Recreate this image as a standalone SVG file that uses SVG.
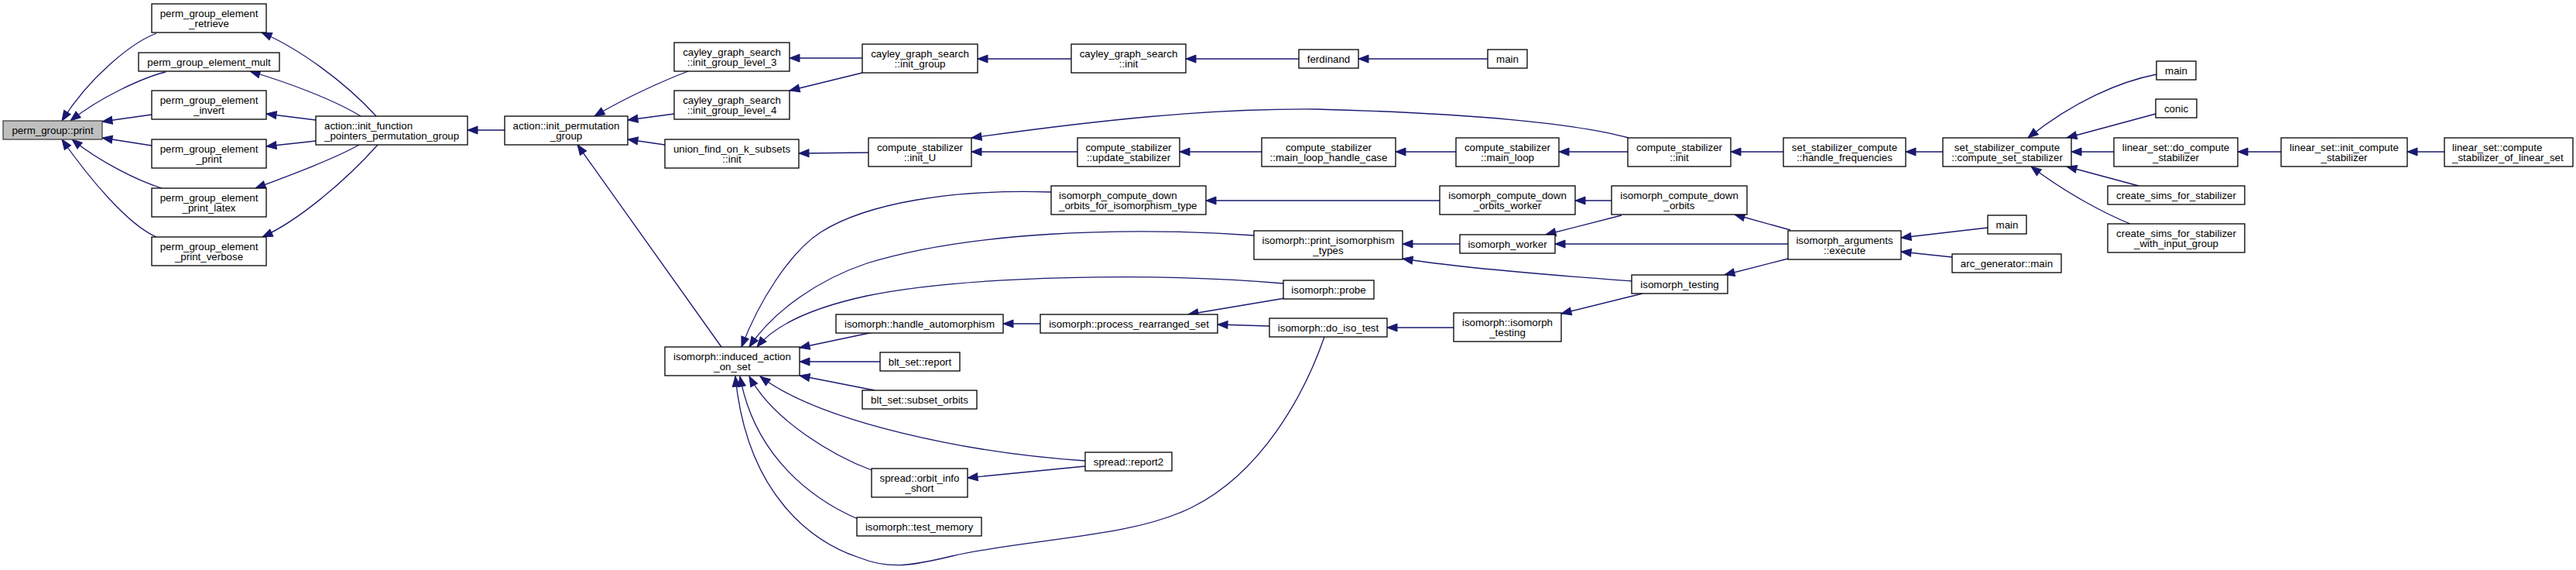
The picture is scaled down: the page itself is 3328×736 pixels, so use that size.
<svg xmlns="http://www.w3.org/2000/svg" width="3328" height="736" viewBox="0 0 3328 736">
<defs>
<style>
.node rect{fill:#fff;stroke:#000;stroke-width:1.3}
.root rect{fill:#bfbfbf;stroke:#404040;stroke-width:1.3}
text{font-family:"Liberation Sans",Arial,sans-serif;font-size:13.33px;fill:#000}
.c{text-anchor:middle}
.l{text-anchor:start}
#edges path{fill:none;stroke:#191970;stroke-width:1.3;marker-end:url(#ah)}
</style>
<marker id="ah" markerUnits="userSpaceOnUse" markerWidth="15" markerHeight="12" refX="13" refY="5" orient="auto" overflow="visible">
<path d="M0,0 L13,5 L0,10 z" fill="#191970" stroke="#191970" stroke-width="1"/>
</marker>
</defs>
<rect width="3328" height="736" fill="#fff"/>
<g id="edges">
<path d="M202,43 C170,55 115,100 80,156"/>
<path d="M214,93 C185,100 130,125 91,156"/>
<path d="M196,148 L132,157"/>
<path d="M196,188 L132,178"/>
<path d="M209,243 C180,234 130,210 93,180"/>
<path d="M202,306 C165,290 115,230 80,180"/>
<path d="M486,150 C445,105 385,62 338,42"/>
<path d="M466,150 C430,128 370,106 323,92"/>
<path d="M408,155 L344,147"/>
<path d="M408,182 L344,189"/>
<path d="M464,187 C430,206 370,228 330,243"/>
<path d="M488,187 C445,235 385,285 339,306"/>
<path d="M652,168 L604,168"/>
<path d="M889,92 C860,103 810,125 768,150"/>
<path d="M871,147 L811,155"/>
<path d="M859,187 L811,180"/>
<path d="M932,448 L746,187"/>
<path d="M1114,75 L1020,75"/>
<path d="M1114,94 L1020,117"/>
<path d="M1384,76 L1263,76"/>
<path d="M1678,76 L1532,76"/>
<path d="M1922,76 L1755,76"/>
<path d="M1122,197 L1032,198"/>
<path d="M1392,196 L1255,196"/>
<path d="M2104,178 C2040,160 1900,146 1700,141 C1560,140 1420,155 1255,178"/>
<path d="M1630,196 L1524,196"/>
<path d="M1881,196 L1803,196"/>
<path d="M2103,196 L2014,196"/>
<path d="M2304,196 L2236,196"/>
<path d="M2510,196 L2462,196"/>
<path d="M2786,96 C2740,105 2680,130 2620,178"/>
<path d="M2785,147 L2670,178"/>
<path d="M2731,196 L2676,196"/>
<path d="M2763,240 L2670,215"/>
<path d="M2752,289 C2720,276 2670,250 2624,215"/>
<path d="M2947,196 L2891,196"/>
<path d="M3158,196 L3110,196"/>
<path d="M1358,248 C1230,244 1120,262 1060,300 C1020,326 980,390 958,448"/>
<path d="M1620,304 C1450,292 1250,300 1120,340 C1060,360 1000,400 968,448"/>
<path d="M1658,366 C1500,352 1250,355 1120,382 C1060,395 1005,415 978,448"/>
<path d="M1128,429 L1033,449"/>
<path d="M1137,467 L1033,467"/>
<path d="M1130,504 L1033,485"/>
<path d="M1402,595 C1250,585 1060,545 982,486"/>
<path d="M1126,607 C1080,590 1000,545 968,486"/>
<path d="M1108,670 C1050,645 975,590 956,486"/>
<path d="M1711,435 C1685,510 1630,610 1540,655 C1460,695 1330,695 1230,718 C1180,730 1150,736 1110,720 C1050,700 965,640 950,486"/>
<path d="M1860,259 L1558,259"/>
<path d="M2082,259 L2035,259"/>
<path d="M1886,315 L1812,315"/>
<path d="M2108,363 C2040,358 1900,348 1812,334"/>
<path d="M2095,278 L1997,303"/>
<path d="M2310,315 L2009,315"/>
<path d="M2313,297 L2241,277"/>
<path d="M2310,334 L2228,355"/>
<path d="M2568,294 L2456,307"/>
<path d="M2522,332 L2456,325"/>
<path d="M1344,418 L1296,418"/>
<path d="M1660,385 L1535,406"/>
<path d="M1640,421 L1573,419"/>
<path d="M1878,423 L1792,423"/>
<path d="M2122,379 L2017,405"/>
<path d="M1402,602 L1250,617"/>
</g>
<g id="n1" class="root"><rect x="4" y="156" width="128" height="24"/><text class="c" x="68" y="172.7">perm_group::print</text></g>
<g id="n2" class="node"><rect x="196" y="5" width="148" height="37"/><text class="c" x="270" y="22">perm_group_element</text><text class="c" x="270" y="35">_retrieve</text></g>
<g id="n3" class="node"><rect x="179" y="68" width="182" height="24"/><text class="c" x="270" y="84.7">perm_group_element_mult</text></g>
<g id="n4" class="node"><rect x="196" y="117" width="148" height="37"/><text class="c" x="270" y="134">perm_group_element</text><text class="c" x="270" y="147">_invert</text></g>
<g id="n5" class="node"><rect x="196" y="180" width="148" height="37"/><text class="c" x="270" y="197">perm_group_element</text><text class="c" x="270" y="210">_print</text></g>
<g id="n6" class="node"><rect x="196" y="243" width="148" height="37"/><text class="c" x="270" y="260">perm_group_element</text><text class="c" x="270" y="273">_print_latex</text></g>
<g id="n7" class="node"><rect x="196" y="306" width="148" height="37"/><text class="c" x="270" y="323">perm_group_element</text><text class="c" x="270" y="336">_print_verbose</text></g>
<g id="n8" class="node"><rect x="408" y="150" width="196" height="37"/><text class="l" x="419" y="167">action::init_function</text><text class="l" x="419" y="180">_pointers_permutation_group</text></g>
<g id="n9" class="node"><rect x="652" y="150" width="159" height="37"/><text class="c" x="731.5" y="167">action::init_permutation</text><text class="c" x="731.5" y="180">_group</text></g>
<g id="n10" class="node"><rect x="871" y="55" width="149" height="37"/><text class="c" x="945.5" y="72">cayley_graph_search</text><text class="c" x="945.5" y="85">::init_group_level_3</text></g>
<g id="n11" class="node"><rect x="871" y="117" width="149" height="37"/><text class="c" x="945.5" y="134">cayley_graph_search</text><text class="c" x="945.5" y="147">::init_group_level_4</text></g>
<g id="n12" class="node"><rect x="859" y="180" width="173" height="37"/><text class="c" x="945.5" y="197">union_find_on_k_subsets</text><text class="c" x="945.5" y="210">::init</text></g>
<g id="n13" class="node"><rect x="859" y="448" width="174" height="37"/><text class="c" x="946" y="465">isomorph::induced_action</text><text class="c" x="946" y="478">_on_set</text></g>
<g id="n14" class="node"><rect x="1114" y="57" width="149" height="37"/><text class="c" x="1188.5" y="74">cayley_graph_search</text><text class="c" x="1188.5" y="87">::init_group</text></g>
<g id="n15" class="node"><rect x="1384" y="57" width="148" height="37"/><text class="c" x="1458" y="74">cayley_graph_search</text><text class="c" x="1458" y="87">::init</text></g>
<g id="n16" class="node"><rect x="1678" y="64" width="77" height="24"/><text class="c" x="1716.5" y="80.7">ferdinand</text></g>
<g id="n17" class="node"><rect x="1922" y="64" width="51" height="24"/><text class="c" x="1947.5" y="80.7">main</text></g>
<g id="n18" class="node"><rect x="1122" y="178" width="133" height="37"/><text class="c" x="1188.5" y="195">compute_stabilizer</text><text class="c" x="1188.5" y="208">::init_U</text></g>
<g id="n19" class="node"><rect x="1392" y="178" width="132" height="37"/><text class="c" x="1458" y="195">compute_stabilizer</text><text class="c" x="1458" y="208">::update_stabilizer</text></g>
<g id="n20" class="node"><rect x="1630" y="178" width="173" height="37"/><text class="c" x="1716.5" y="195">compute_stabilizer</text><text class="c" x="1716.5" y="208">::main_loop_handle_case</text></g>
<g id="n21" class="node"><rect x="1881" y="178" width="133" height="37"/><text class="c" x="1947.5" y="195">compute_stabilizer</text><text class="c" x="1947.5" y="208">::main_loop</text></g>
<g id="n22" class="node"><rect x="2103" y="178" width="133" height="37"/><text class="c" x="2169.5" y="195">compute_stabilizer</text><text class="c" x="2169.5" y="208">::init</text></g>
<g id="n23" class="node"><rect x="2304" y="178" width="158" height="37"/><text class="c" x="2383" y="195">set_stabilizer_compute</text><text class="c" x="2383" y="208">::handle_frequencies</text></g>
<g id="n24" class="node"><rect x="2510" y="178" width="166" height="37"/><text class="c" x="2593" y="195">set_stabilizer_compute</text><text class="c" x="2593" y="208">::compute_set_stabilizer</text></g>
<g id="n25" class="node"><rect x="2786" y="79" width="51" height="24"/><text class="c" x="2811.5" y="95.7">main</text></g>
<g id="n26" class="node"><rect x="2785" y="128" width="53" height="24"/><text class="c" x="2811.5" y="144.7">conic</text></g>
<g id="n27" class="node"><rect x="2731" y="178" width="160" height="37"/><text class="c" x="2811" y="195">linear_set::do_compute</text><text class="c" x="2811" y="208">_stabilizer</text></g>
<g id="n28" class="node"><rect x="2723" y="240" width="177" height="24"/><text class="c" x="2811.5" y="256.7">create_sims_for_stabilizer</text></g>
<g id="n29" class="node"><rect x="2723" y="289" width="177" height="37"/><text class="c" x="2811.5" y="306">create_sims_for_stabilizer</text><text class="c" x="2811.5" y="319">_with_input_group</text></g>
<g id="n30" class="node"><rect x="2947" y="178" width="163" height="37"/><text class="c" x="3028.5" y="195">linear_set::init_compute</text><text class="c" x="3028.5" y="208">_stabilizer</text></g>
<g id="n31" class="node"><rect x="3158" y="178" width="166" height="37"/><text class="l" x="3168" y="195">linear_set::compute</text><text class="l" x="3168" y="208">_stabilizer_of_linear_set</text></g>
<g id="n32" class="node"><rect x="1358" y="240" width="200" height="37"/><text class="l" x="1368" y="257">isomorph_compute_down</text><text class="l" x="1368" y="270">_orbits_for_isomorphism_type</text></g>
<g id="n33" class="node"><rect x="1860" y="240" width="175" height="37"/><text class="c" x="1947.5" y="257">isomorph_compute_down</text><text class="c" x="1947.5" y="270">_orbits_worker</text></g>
<g id="n34" class="node"><rect x="2082" y="240" width="175" height="37"/><text class="c" x="2169.5" y="257">isomorph_compute_down</text><text class="c" x="2169.5" y="270">_orbits</text></g>
<g id="n35" class="node"><rect x="1620" y="298" width="192" height="37"/><text class="c" x="1716" y="315">isomorph::print_isomorphism</text><text class="c" x="1716" y="328">_types</text></g>
<g id="n36" class="node"><rect x="1886" y="303" width="123" height="24"/><text class="c" x="1947.5" y="319.7">isomorph_worker</text></g>
<g id="n37" class="node"><rect x="2310" y="298" width="146" height="37"/><text class="c" x="2383" y="315">isomorph_arguments</text><text class="c" x="2383" y="328">::execute</text></g>
<g id="n38" class="node"><rect x="2568" y="278" width="50" height="24"/><text class="c" x="2593" y="294.7">main</text></g>
<g id="n39" class="node"><rect x="2522" y="328" width="141" height="24"/><text class="c" x="2592.5" y="344.7">arc_generator::main</text></g>
<g id="n40" class="node"><rect x="1658" y="362" width="117" height="24"/><text class="c" x="1716.5" y="378.7">isomorph::probe</text></g>
<g id="n41" class="node"><rect x="2108" y="355" width="124" height="24"/><text class="c" x="2170" y="371.7">isomorph_testing</text></g>
<g id="n42" class="node"><rect x="1080" y="406" width="216" height="24"/><text class="c" x="1188" y="422.7">isomorph::handle_automorphism</text></g>
<g id="n43" class="node"><rect x="1344" y="406" width="229" height="24"/><text class="c" x="1458.5" y="422.7">isomorph::process_rearranged_set</text></g>
<g id="n44" class="node"><rect x="1640" y="411" width="152" height="24"/><text class="c" x="1716" y="427.7">isomorph::do_iso_test</text></g>
<g id="n45" class="node"><rect x="1878" y="404" width="139" height="37"/><text class="c" x="1947.5" y="421">isomorph::isomorph</text><text class="c" x="1947.5" y="434">_testing</text></g>
<g id="n46" class="node"><rect x="1137" y="455" width="103" height="24"/><text class="c" x="1188.5" y="471.7">blt_set::report</text></g>
<g id="n47" class="node"><rect x="1114" y="504" width="148" height="24"/><text class="c" x="1188" y="520.7">blt_set::subset_orbits</text></g>
<g id="n48" class="node"><rect x="1402" y="584" width="112" height="24"/><text class="c" x="1458" y="600.7">spread::report2</text></g>
<g id="n49" class="node"><rect x="1126" y="605" width="124" height="37"/><text class="c" x="1188" y="622">spread::orbit_info</text><text class="c" x="1188" y="635">_short</text></g>
<g id="n50" class="node"><rect x="1107" y="668" width="161" height="24"/><text class="c" x="1187.5" y="684.7">isomorph::test_memory</text></g>
</svg>
